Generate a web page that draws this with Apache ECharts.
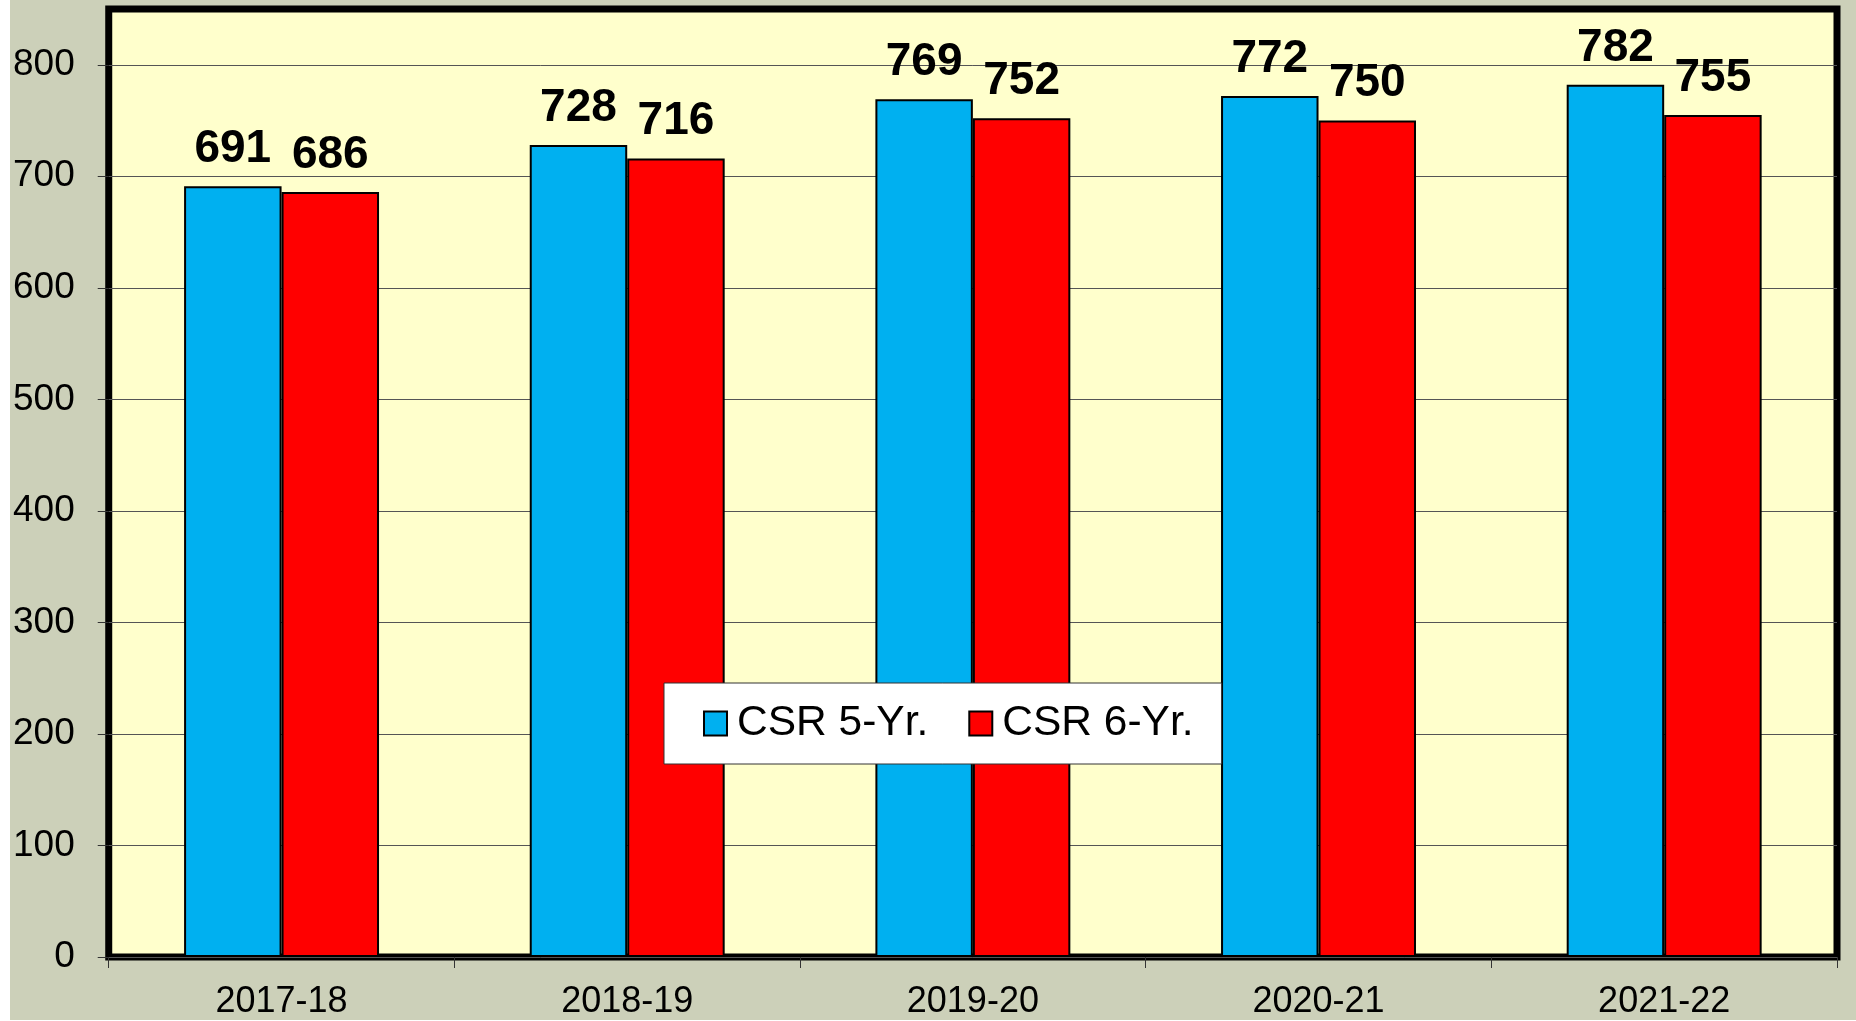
<!DOCTYPE html>
<html>
<head>
<meta charset="utf-8">
<script src="https://cdn.jsdelivr.net/npm/echarts@6/dist/echarts.min.js"></script>
<style>
  html, body { margin: 0; padding: 0; background: #ffffff; }
  #chart { position: absolute; left: 10px; top: 0; width: 1846px; height: 1020px; }
</style>
</head>
<body>
<div id="chart"></div>
<script>
// 数据
const years = ['2017-18', '2018-19', '2019-20', '2020-21', '2021-22']
const csr5 = [691, 728, 769, 772, 782]
const csr6 = [686, 716, 752, 750, 755]
const yTicks = [0, 100, 200, 300, 400, 500, 600, 700, 800]

const colors = {
  blue: '#00B0F0',
  red: '#FF0000',
  plotBg: '#FFFFCC',
  outerBg: '#CCD0B9'
}

const chart = echarts.init(document.getElementById('chart'))

const labelStyle = {
  show: true,
  position: 'top',
  distance: 14,
  fontFamily: 'Liberation Sans',
  fontSize: 46,
  fontWeight: 'bold',
  color: '#000'
}

const option = {
  backgroundColor: colors.outerBg,
  animation: false,
  grid: {
    left: 98,
    right: 19,
    top: 9,
    bottom: 60.5,
    show: true,
    backgroundColor: colors.plotBg,
    borderColor: '#000',
    borderWidth: 7
  },
  legend: {
    left: 654,
    top: 683,
    padding: [19, 28, 19, 39],
    itemGap: 40,
    itemWidth: 23,
    itemHeight: 24,
    backgroundColor: '#fff',
    borderColor: '#333',
    borderWidth: 1,
    borderRadius: 0,
    icon: 'rect',
    textStyle: {
      fontFamily: 'Liberation Sans',
      fontSize: 42.5,
      color: '#000',
      padding: [0, 0, 0, 5]
    },
    data: ['CSR 5-Yr.', 'CSR 6-Yr.']
  },
  xAxis: {
    type: 'category',
    data: years,
    axisLine: { show: false },
    axisTick: {
      show: true,
      interval: 0,
      length: 11,
      lineStyle: { color: '#333', width: 1 }
    },
    axisLabel: {
      margin: 27,
      fontFamily: 'Liberation Sans',
      fontSize: 36,
      color: '#000'
    }
  },
  yAxis: {
    type: 'value',
    min: 0,
    max: 850,
    interval: 100,
    axisLine: { show: false },
    axisTick: {
      show: true,
      length: 11,
      customValues: yTicks,
      lineStyle: { color: '#333', width: 1 }
    },
    axisLabel: {
      margin: 34,
      customValues: yTicks,
      fontFamily: 'Liberation Sans',
      fontSize: 37,
      color: '#000'
    },
    splitLine: {
      lineStyle: { color: '#555', width: 1, type: 'solid' }
    }
  },
  series: [
    {
      name: 'CSR 5-Yr.',
      type: 'bar',
      data: csr5,
      barGap: '0%',
      barCategoryGap: '43.6%',
      itemStyle: { color: colors.blue, borderColor: '#000', borderWidth: 2 },
      label: labelStyle
    },
    {
      name: 'CSR 6-Yr.',
      type: 'bar',
      data: csr6,
      itemStyle: { color: colors.red, borderColor: '#000', borderWidth: 2 },
      label: labelStyle
    }
  ]
}

chart.setOption(option)

window.addEventListener('resize', () => {
  chart && chart.resize()
})
</script>
</body>
</html>
